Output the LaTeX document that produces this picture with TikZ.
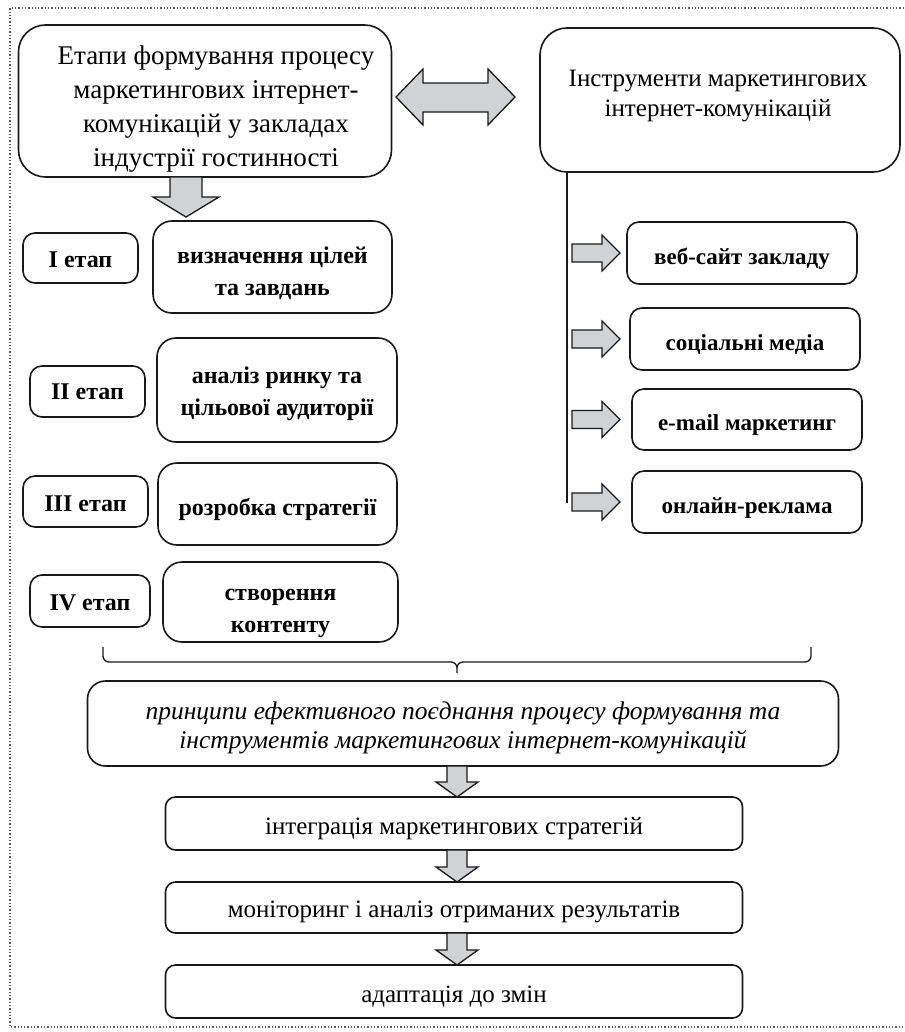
\documentclass[tikz,border=0pt]{standalone}
\usepackage{fontspec}
\usepackage{graphicx}
\setmainfont{Liberation Serif}
\usetikzlibrary{decorations.pathreplacing}
\definecolor{arrowgray}{RGB}{208,210,212}
\definecolor{linecol}{RGB}{25,25,25}
\newcommand\fatdown[5]{\draw[fatarrow] #1 ++(-#3,0) -- ++(0,{#2-#5}) -- ++({#3-#4},0) -- ++(#4,#5) -- ++(#4,-#5) -- ++({#3-#4},0) -- ++(0,{-(#2-#5)}) -- cycle;}
\newcommand\fatright[5]{\draw[fatarrow] #1 -- ++(-#5,-#4) -- ++(0,{#4-#3}) -- ++({-(#2-#5)},0) -- ++(0,{2*#3}) -- ++({#2-#5},0) -- ++(0,{#4-#3}) -- cycle;}
\newcommand\lowered[2]{\raisebox{0pt}[\dimexpr\height+#1+#1\relax][\depth]{\begin{tabular}{@{}c@{}}#2\end{tabular}}}
\begin{document}
\begin{tikzpicture}[x=1pt,y=-1pt,
  box/.style={draw=linecol,line width=1.6pt,fill=white,outer sep=0pt,inner sep=0pt,align=center},
  bigbox/.style={box,rounded corners=27pt},
  stagebox/.style={box,rounded corners=12pt,font=\bfseries\fontsize{24}{31}\selectfont},
  contbox/.style={box,rounded corners=19pt,font=\bfseries\fontsize{24}{32}\selectfont},
  toolbox/.style={box,rounded corners=12pt,font=\bfseries\fontsize{23}{30}\selectfont},
  stepbox/.style={box,rounded corners=10pt,minimum width=577pt,font=\fontsize{25}{30}\selectfont},
  fatarrow/.style={draw=linecol,line width=1.3pt,fill=arrowgray,line join=miter},
  frame/.style={draw=gray!70!black,line width=1.3pt,dotted}
]
\useasboundingbox (0,0) rectangle (904,1032);
\draw[frame] (904,8) -- (10,8) -- (10,1027) -- (904,1027);

% top boxes
\node[bigbox,minimum width=373pt,minimum height=152pt] (top) at (205,101) {};
\node[font=\fontsize{27}{34}\selectfont,align=center] (toptext) at (216,109)
  {Етапи формування процесу\\маркетингових інтернет-\\комунікацій у закладах\\індустрії гостинності};
\node[bigbox,minimum width=360pt,minimum height=144pt] (tools) at (720,100) {};
\node[font=\fontsize{25}{30}\selectfont,align=center] (toolstext) at (718,96)
  {Інструменти маркетингових\\інтернет-комунікацій};

% double arrow
\draw[fatarrow] (396,97) -- (423,69) -- (423,83) -- (488,83) -- (488,69) -- (515,97)
  -- (488,125) -- (488,112) -- (423,112) -- (423,125) -- cycle;

% stages
\node[stagebox,minimum width=115pt,minimum height=50pt] (s1) at (80.5,258) {\lowered{3pt}{I етап}};
\node[contbox,minimum width=239pt,minimum height=92pt] (c1) at (272.5,267) {\lowered{6pt}{визначення цілей\\та завдань}};
\node[stagebox,minimum width=115pt,minimum height=51pt] (s2) at (87.5,391.5) {\lowered{2pt}{II етап}};
\node[contbox,minimum width=240pt,minimum height=104pt] (c2) at (277,390) {\lowered{3pt}{аналіз ринку та\\цільової аудиторії}};
\node[stagebox,minimum width=125pt,minimum height=51pt] (s3) at (85.5,501.5) {\lowered{4pt}{III етап}};
\node[contbox,minimum width=239pt,minimum height=82pt] (c3) at (277.5,504) {\lowered{5pt}{розробка стратегії}};
\node[stagebox,minimum width=120pt,minimum height=52pt] (s4) at (90,601) {\lowered{3pt}{IV етап}};
\node[contbox,minimum width=235pt,minimum height=80pt] (c4) at (280.5,602) {\lowered{8pt}{створення\\контенту}};

\coordinate (ax) at (186,0);
\fatdown{(top.south -| ax)}{40}{16}{33}{20}

% tools
\node[toolbox,minimum width=230pt,minimum height=62pt] (t1) at (742,253) {\lowered{5pt}{веб-сайт закладу}};
\node[toolbox,minimum width=230pt,minimum height=62pt] (t2) at (745,339) {\lowered{5pt}{соціальні медіа}};
\node[toolbox,minimum width=230pt,minimum height=61pt] (t3) at (747,419.5) {\lowered{5pt}{e-mail маркетинг}};
\node[toolbox,minimum width=230pt,minimum height=62pt] (t4) at (747,502) {\lowered{5pt}{онлайн-реклама}};
\coordinate (lineend) at (567,503);
\draw[draw=linecol,line width=1.3pt] ([xshift=27pt]tools.south west) -- (lineend);
\coordinate (tipx) at (620,0);
\fatright{(t1 -| tipx)}{48}{9}{18}{18}
\fatright{(t2 -| tipx)}{48}{9}{18}{18}
\fatright{(t3 -| tipx)}{48}{9}{18}{18}
\fatright{(t4 -| tipx)}{48}{9}{18}{18}

% brace
\coordinate (bl) at (103,647);
\coordinate (br) at (811,647);
\draw[draw=linecol,line width=1.3pt] (bl) -- ++(0,9) arc[start angle=180,end angle=90,radius=6] -- (451,662)
  arc[start angle=-90,end angle=0,radius=6] -- (457,673) -- (457,668)
  arc[start angle=180,end angle=270,radius=6] -- (805,662) arc[start angle=90,end angle=0,radius=6] -- (br);

% principles
\node[box,rounded corners=18pt,minimum width=751pt,minimum height=85pt,font=\itshape\fontsize{25.5}{29}\selectfont] (pr) at (463,723.5)
  {\lowered{5pt}{принципи ефективного поєднання процесу формування та\\інструментів маркетингових інтернет-комунікацій}};

\node[stepbox,minimum height=53pt] (b1) at (454,823.5) {\lowered{5pt}{інтеграція маркетингових стратегій}};
\node[stepbox,minimum height=51pt] (b2) at (454,907.5) {\lowered{4pt}{моніторинг і аналіз отриманих результатів}};
\node[stepbox,minimum height=53pt] (b3) at (454,991.5) {\lowered{5pt}{адаптація до змін}};

\coordinate (bx) at (457,0);
\fatdown{(pr.south -| bx)}{31}{10}{21}{15}
\fatdown{(b1.south -| bx)}{32}{10}{21}{15}
\fatdown{(b2.south -| bx)}{32}{10}{21}{15}
\end{tikzpicture}
\end{document}
